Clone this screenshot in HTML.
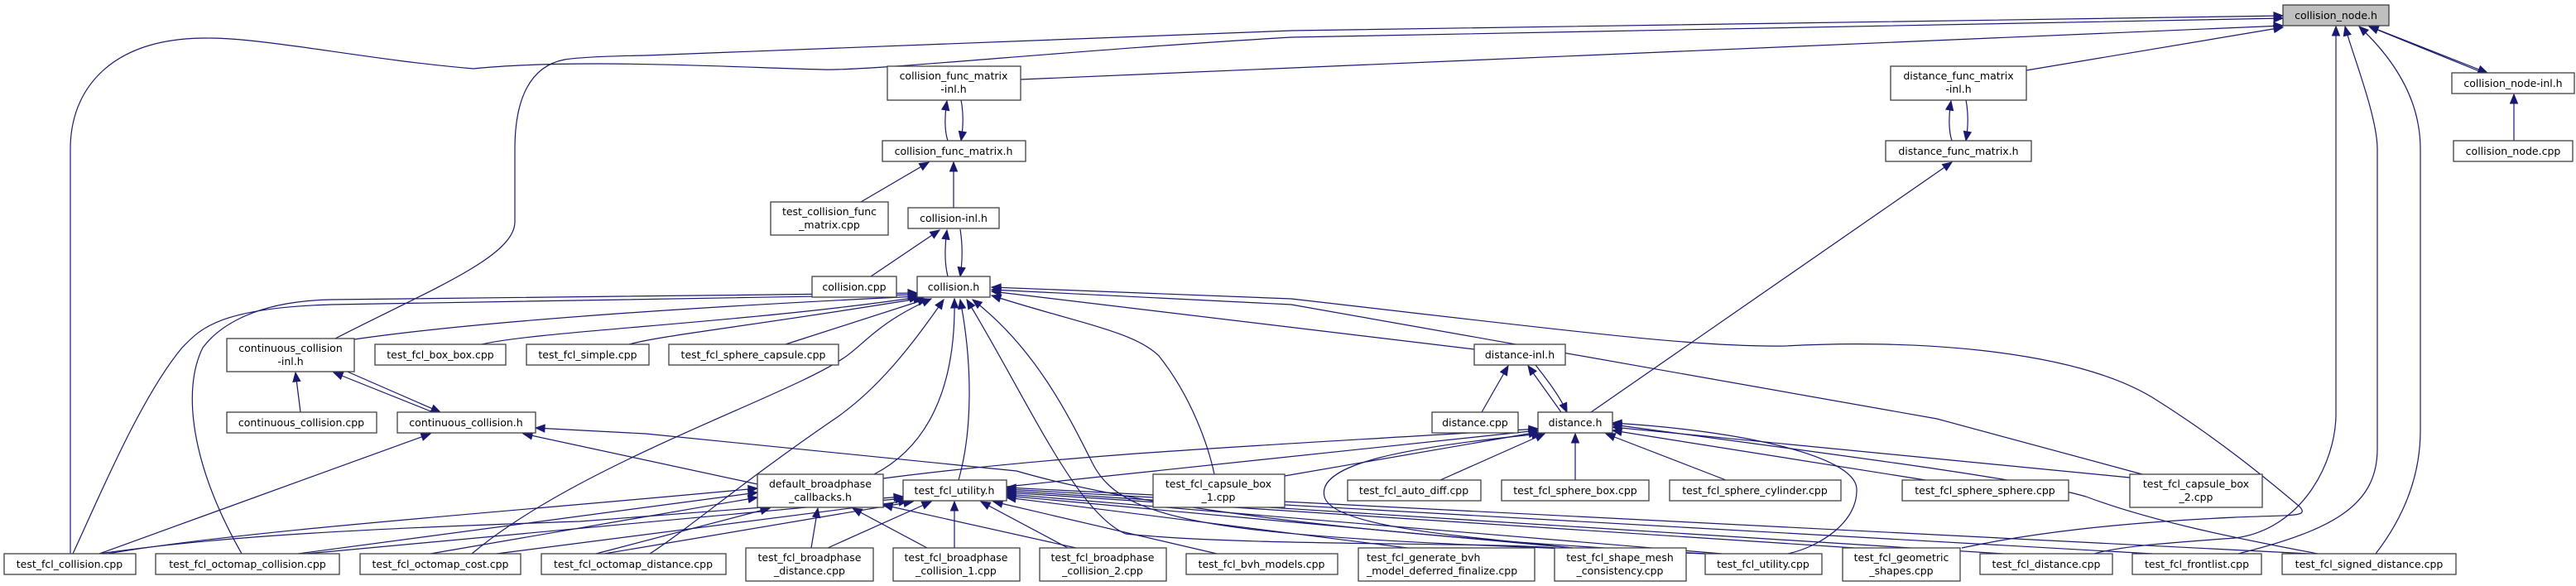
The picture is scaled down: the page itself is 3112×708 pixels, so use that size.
<!DOCTYPE html>
<html><head><meta charset="utf-8"><style>
html,body{margin:0;padding:0;background:#fff;}
svg{display:block;}
text{font-family:"DejaVu Sans","Liberation Sans",sans-serif;font-size:12.5px;fill:#000;}
.n{fill:#fff;stroke:#404040;stroke-width:1.3;}
.e{fill:none;stroke:#191970;stroke-width:1.2;marker-start:url(#a);}
</style></head><body>
<svg width="3112" height="708" viewBox="0 0 3112 708" xmlns="http://www.w3.org/2000/svg">
<defs>
<marker id="a" markerUnits="userSpaceOnUse" markerWidth="14" markerHeight="12" viewBox="-12 -6 14 12" refX="0" refY="0" orient="auto-start-reverse">
<path d="M-11,-4.5 L0,0 L-11,4.5 z" fill="#191970" stroke="#191970"/>
</marker>
</defs>
<g>
<!-- collision_node.h edges -->
<path class="e" d="M2758,19 L1560,37 L780,67 C720,68 695,70 682,72 C640,80 622,120 622,180 L622,268 C622,310 520,350 405,409"/>
<path class="e" d="M2758,22 L1560,45 C1300,60 1050,86 994,84 C900,82 700,70 572,83 C420,70 300,40 224,47 C130,55 85,110 85,180 L85,669"/>
<path class="e" d="M2758,31 L1233,96"/>
<path class="e" d="M2758,33 L2448,85"/>
<path class="e" d="M2822,32 L2822,500 C2822,560 2780,640 2700,650 C2620,656 2560,660 2530,669"/>
<path class="e" d="M2833,32 C2840,60 2872,140 2872,180 L2872,542 C2872,610 2820,640 2704,669"/>
<path class="e" d="M2850,32 C2880,60 2924,110 2924,180 L2924,520 C2924,580 2900,630 2870,669"/>
<path class="e" d="M2862,32 L3000,88"/>
<path class="e" d="M3005,88 L2868,34"/>
<path class="e" d="M3037,114 L3037,170"/>
<!-- func matrix -->
<path class="e" d="M1144,122 C1141,140 1141,158 1145,170"/>
<path class="e" d="M1161,170 C1164,152 1164,136 1161,121"/>
<path class="e" d="M2357,122 C2354,140 2354,158 2358,170"/>
<path class="e" d="M2375,170 C2378,152 2378,136 2375,121"/>
<path class="e" d="M1122,196 L1040,244"/>
<path class="e" d="M1152,196 L1152,251"/>
<path class="e" d="M1144,278 C1141,300 1141,318 1145,334"/>
<path class="e" d="M1160,334 C1163,314 1163,296 1160,277"/>
<path class="e" d="M1135,278 L1052,334"/>
<path class="e" d="M2358,196 L1922,498"/>
<!-- distance-inl -->
<path class="e" d="M1846,442 L1886,498"/>
<path class="e" d="M1893,498 C1885,480 1870,460 1855,441"/>
<path class="e" d="M1822,442 L1790,498"/>
<!-- continuous -->
<path class="e" d="M403,450 L523,498"/>
<path class="e" d="M532,498 L415,447"/>
<path class="e" d="M357,450 L363,498"/>
<path class="e" d="M520,524 L120,669"/>
<path class="e" d="M632,524 L915,585"/>
<path class="e" d="M647,517 L780,524 L1228,569 C1300,590 1500,640 2060,669"/>
<!-- collision.h -->
<path class="e" d="M1108,358 C900,368 600,385 428,410"/>
<path class="e" d="M1110,359 C900,390 650,400 582,416"/>
<path class="e" d="M1115,360 C900,395 800,405 760,416"/>
<path class="e" d="M1120,361 L949,416"/>
<path class="e" d="M1108,356 L400,368 C260,372 240,400 220,420 C170,480 120,600 88,669"/>
<path class="e" d="M1108,354 L400,362 C300,364 260,400 245,420 C220,470 230,560 292,669"/>
<path class="e" d="M1125,361 C1060,390 1045,415 1020,432 C950,480 700,560 570,669"/>
<path class="e" d="M1140,362 C1100,420 1060,470 1010,505 C900,580 830,640 785,669"/>
<path class="e" d="M1153,361 C1155,470 1120,540 1056,573"/>
<path class="e" d="M1160,362 C1175,440 1175,520 1158,580"/>
<path class="e" d="M1168,362 C1240,480 1300,620 1360,645 C1500,660 1800,655 1880,662"/>
<path class="e" d="M1175,362 C1250,420 1290,500 1320,560 C1360,640 1500,650 2060,669"/>
<path class="e" d="M1198,357 C1300,390 1370,400 1400,430 C1440,480 1460,540 1467,573"/>
<path class="e" d="M1198,352 L1781,422"/>
<path class="e" d="M1198,350 L1560,368 L2340,506 L2588,573"/>
<path class="e" d="M1198,347 L1560,361 C1900,400 2050,420 2157,418 C2300,410 2500,420 2600,480 C2680,530 2740,580 2778,612 C2790,625 2770,622 2700,625 C2550,632 2450,645 2370,662"/>
<!-- distance.h -->
<path class="e" d="M1866,524 L1740,580"/>
<path class="e" d="M1903,524 L1903,580"/>
<path class="e" d="M1940,524 L2085,580"/>
<path class="e" d="M1948,520 L2326,580"/>
<path class="e" d="M1948,516 L2573,577"/>
<path class="e" d="M1948,513 C2300,560 2450,580 2520,600 C2600,630 2700,650 2800,669"/>
<path class="e" d="M1948,511 C2100,520 2240,550 2243,590 C2245,630 2200,660 2160,669"/>
<path class="e" d="M1858,518 C1500,540 1300,548 1067,578"/>
<path class="e" d="M1858,520 L1216,588"/>
<path class="e" d="M1858,522 L1552,575"/>
<path class="e" d="M1862,524 C1700,540 1590,560 1600,600 C1610,640 1800,650 1900,662"/>
<!-- test_fcl_utility.h -->
<path class="e" d="M1091,600 L700,630 C400,640 250,650 120,669"/>
<path class="e" d="M1093,602 L370,669"/>
<path class="e" d="M1097,605 L600,669"/>
<path class="e" d="M1103,606 L730,669"/>
<path class="e" d="M1125,606 L1000,662"/>
<path class="e" d="M1153,606 L1153,662"/>
<path class="e" d="M1185,606 L1290,662"/>
<path class="e" d="M1200,606 L1470,669"/>
<path class="e" d="M1216,601 L1700,662"/>
<path class="e" d="M1216,599 L1900,662"/>
<path class="e" d="M1216,597 L2080,669"/>
<path class="e" d="M1216,595 L2240,662"/>
<path class="e" d="M1216,593 L2420,669"/>
<path class="e" d="M1216,591 L2600,669"/>
<path class="e" d="M1216,589 L2790,669"/>
<!-- default_broadphase_callbacks.h -->
<path class="e" d="M915,590 C600,620 300,640 130,669"/>
<path class="e" d="M915,595 L360,669"/>
<path class="e" d="M915,601 L520,669"/>
<path class="e" d="M930,614 L720,669"/>
<path class="e" d="M988,614 L980,662"/>
<path class="e" d="M1030,614 L1120,662"/>
<path class="e" d="M1067,610 L1300,662"/>
</g>
<g>
<rect x="2758" y="6" width="128" height="25" fill="#bfbfbf" stroke="#404040" stroke-width="1.3"/><text x="2822" y="23" text-anchor="middle">collision_node.h</text>
<rect class="n" x="2962" y="88" width="148" height="25"/><text x="3036" y="105" text-anchor="middle">collision_node-inl.h</text>
<rect class="n" x="2964" y="170" width="144" height="25"/><text x="3036" y="187" text-anchor="middle">collision_node.cpp</text>
<rect class="n" x="1072" y="80" width="161" height="41"/><text x="1152" y="96" text-anchor="middle">collision_func_matrix</text><text x="1152" y="112" text-anchor="middle">-inl.h</text>
<rect class="n" x="1066" y="170" width="173" height="25"/><text x="1152" y="187" text-anchor="middle">collision_func_matrix.h</text>
<rect class="n" x="2284" y="80" width="164" height="41"/><text x="2366" y="96" text-anchor="middle">distance_func_matrix</text><text x="2366" y="112" text-anchor="middle">-inl.h</text>
<rect class="n" x="2278" y="170" width="176" height="25"/><text x="2366" y="187" text-anchor="middle">distance_func_matrix.h</text>
<rect class="n" x="931" y="244" width="142" height="40"/><text x="1002" y="260" text-anchor="middle">test_collision_func</text><text x="1002" y="276" text-anchor="middle">_matrix.cpp</text>
<rect class="n" x="1097" y="251" width="110" height="25"/><text x="1152" y="268" text-anchor="middle">collision-inl.h</text>
<rect class="n" x="981" y="334" width="102" height="25"/><text x="1032" y="351" text-anchor="middle">collision.cpp</text>
<rect class="n" x="1108" y="334" width="88" height="25"/><text x="1152" y="351" text-anchor="middle">collision.h</text>
<rect class="n" x="274" y="409" width="154" height="40"/><text x="351" y="425" text-anchor="middle">continuous_collision</text><text x="351" y="441" text-anchor="middle">-inl.h</text>
<rect class="n" x="453" y="416" width="158" height="25"/><text x="532" y="433" text-anchor="middle">test_fcl_box_box.cpp</text>
<rect class="n" x="636" y="416" width="148" height="25"/><text x="710" y="433" text-anchor="middle">test_fcl_simple.cpp</text>
<rect class="n" x="808" y="416" width="205" height="25"/><text x="910" y="433" text-anchor="middle">test_fcl_sphere_capsule.cpp</text>
<rect class="n" x="1781" y="416" width="110" height="25"/><text x="1836" y="433" text-anchor="middle">distance-inl.h</text>
<rect class="n" x="274" y="498" width="181" height="25"/><text x="364" y="515" text-anchor="middle">continuous_collision.cpp</text>
<rect class="n" x="480" y="498" width="167" height="25"/><text x="563" y="515" text-anchor="middle">continuous_collision.h</text>
<rect class="n" x="1730" y="498" width="104" height="25"/><text x="1782" y="515" text-anchor="middle">distance.cpp</text>
<rect class="n" x="1858" y="498" width="90" height="25"/><text x="1903" y="515" text-anchor="middle">distance.h</text>
<rect class="n" x="915" y="573" width="152" height="40"/><text x="991" y="589" text-anchor="middle">default_broadphase</text><text x="991" y="605" text-anchor="middle">_callbacks.h</text>
<rect class="n" x="1091" y="580" width="125" height="25"/><text x="1153" y="597" text-anchor="middle">test_fcl_utility.h</text>
<rect class="n" x="1393" y="573" width="159" height="40"/><text x="1472" y="589" text-anchor="middle">test_fcl_capsule_box</text><text x="1472" y="605" text-anchor="middle">_1.cpp</text>
<rect class="n" x="1628" y="580" width="161" height="25"/><text x="1708" y="597" text-anchor="middle">test_fcl_auto_diff.cpp</text>
<rect class="n" x="1814" y="580" width="178" height="25"/><text x="1903" y="597" text-anchor="middle">test_fcl_sphere_box.cpp</text>
<rect class="n" x="2017" y="580" width="207" height="25"/><text x="2120" y="597" text-anchor="middle">test_fcl_sphere_cylinder.cpp</text>
<rect class="n" x="2298" y="580" width="201" height="25"/><text x="2398" y="597" text-anchor="middle">test_fcl_sphere_sphere.cpp</text>
<rect class="n" x="2573" y="573" width="160" height="40"/><text x="2653" y="589" text-anchor="middle">test_fcl_capsule_box</text><text x="2653" y="605" text-anchor="middle">_2.cpp</text>
<rect class="n" x="5" y="669" width="159" height="25"/><text x="84" y="686" text-anchor="middle">test_fcl_collision.cpp</text>
<rect class="n" x="188" y="669" width="222" height="25"/><text x="299" y="686" text-anchor="middle">test_fcl_octomap_collision.cpp</text>
<rect class="n" x="435" y="669" width="194" height="25"/><text x="532" y="686" text-anchor="middle">test_fcl_octomap_cost.cpp</text>
<rect class="n" x="654" y="669" width="223" height="25"/><text x="765" y="686" text-anchor="middle">test_fcl_octomap_distance.cpp</text>
<rect class="n" x="901" y="662" width="154" height="40"/><text x="978" y="678" text-anchor="middle">test_fcl_broadphase</text><text x="978" y="694" text-anchor="middle">_distance.cpp</text>
<rect class="n" x="1079" y="662" width="153" height="40"/><text x="1155" y="678" text-anchor="middle">test_fcl_broadphase</text><text x="1155" y="694" text-anchor="middle">_collision_1.cpp</text>
<rect class="n" x="1256" y="662" width="153" height="40"/><text x="1332" y="678" text-anchor="middle">test_fcl_broadphase</text><text x="1332" y="694" text-anchor="middle">_collision_2.cpp</text>
<rect class="n" x="1433" y="669" width="183" height="25"/><text x="1524" y="686" text-anchor="middle">test_fcl_bvh_models.cpp</text>
<rect class="n" x="1641" y="662" width="213" height="40"/><text x="1651" y="678">test_fcl_generate_bvh</text><text x="1651" y="694">_model_deferred_finalize.cpp</text>
<rect class="n" x="1878" y="662" width="159" height="40"/><text x="1957" y="678" text-anchor="middle">test_fcl_shape_mesh</text><text x="1957" y="694" text-anchor="middle">_consistency.cpp</text>
<rect class="n" x="2060" y="669" width="141" height="25"/><text x="2130" y="686" text-anchor="middle">test_fcl_utility.cpp</text>
<rect class="n" x="2226" y="662" width="142" height="40"/><text x="2297" y="678" text-anchor="middle">test_fcl_geometric</text><text x="2297" y="694" text-anchor="middle">_shapes.cpp</text>
<rect class="n" x="2392" y="669" width="160" height="25"/><text x="2472" y="686" text-anchor="middle">test_fcl_distance.cpp</text>
<rect class="n" x="2576" y="669" width="156" height="25"/><text x="2654" y="686" text-anchor="middle">test_fcl_frontlist.cpp</text>
<rect class="n" x="2757" y="669" width="210" height="25"/><text x="2862" y="686" text-anchor="middle">test_fcl_signed_distance.cpp</text>
</g>
</svg>
</body></html>
